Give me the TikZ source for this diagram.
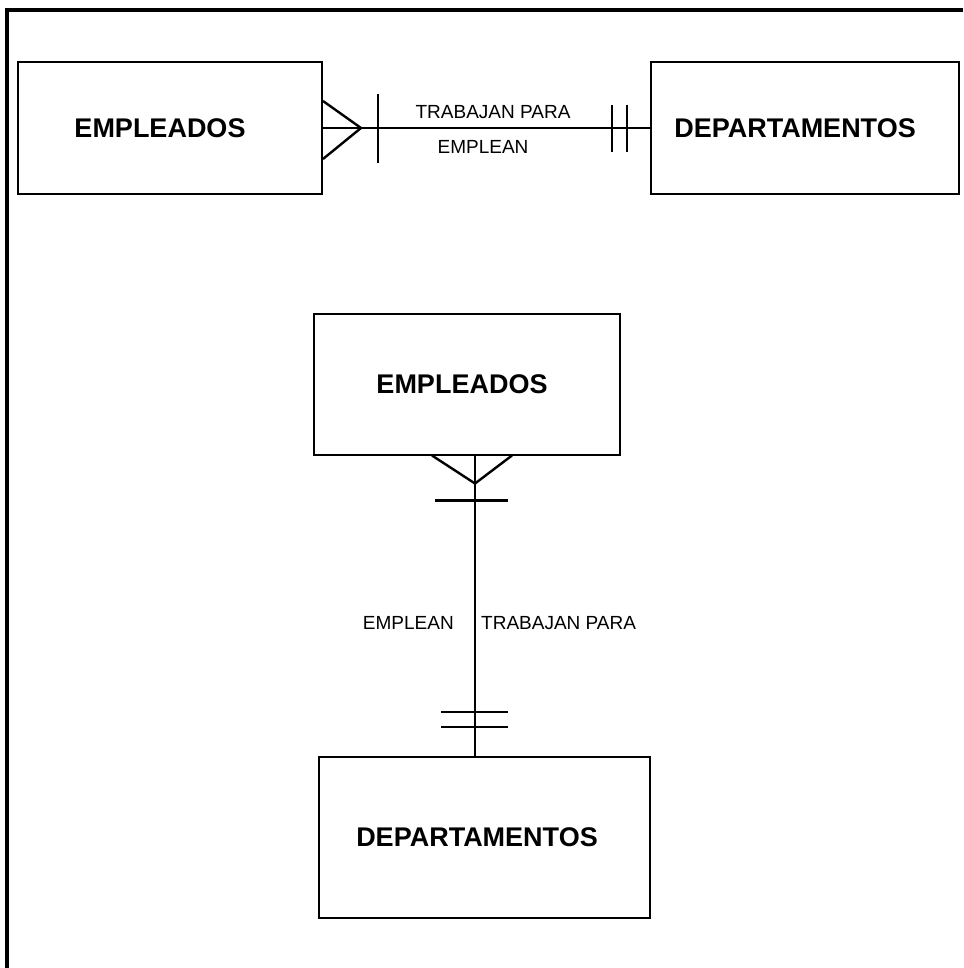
\documentclass[tikz,border=0pt]{standalone}
\usepackage{fontspec}
\setmainfont{Liberation Sans}
\usetikzlibrary{calc}
\begin{document}
\begin{tikzpicture}[x=1pt,y=-1pt,
  entity/.style={draw,line width=2pt,rectangle,inner sep=0pt,font=\fontsize{27}{30}\selectfont\bfseries},
  rel/.style={font=\fontsize{19}{22}\selectfont,inner sep=1pt},
  conn/.style={line width=2pt},
  cardmark/.style={line width=2.4pt}]
\useasboundingbox (0,0) rectangle (963,968);
% frame
\draw[line width=3.5pt] (7,968) -- (7,10) -- (963,10);
% entities
\node[entity,minimum width=304pt,minimum height=132pt] (e1) at (170,128) {EMPLEADOS\hspace*{20pt}};
\node[entity,minimum width=308pt,minimum height=132pt] (d1) at (805,128) {DEPARTAMENTOS\hspace*{20pt}};
\node[entity,minimum width=306pt,minimum height=141pt] (e2) at (467,384) {EMPLEADOS\hspace*{10pt}};
\node[entity,minimum width=331pt,minimum height=161pt] (d2) at (484.5,837.5) {DEPARTAMENTOS\hspace*{15pt}};
% horizontal relationship
\draw[conn] (e1.east) -- (d1.west);
\draw[cardmark] ($(e1.east)+(0,-27)$) -- ($(e1.east)+(38,0)$) -- ($(e1.east)+(0,31)$);
\draw[cardmark] ($(e1.east)+(55,-34)$) -- ($(e1.east)+(55,35)$);
\draw[cardmark] ($(d1.west)+(-38,-23)$) -- ($(d1.west)+(-38,24)$);
\draw[cardmark] ($(d1.west)+(-23,-23)$) -- ($(d1.west)+(-23,24)$);
\node[rel] (t1) at (493,112) {TRABAJAN PARA};
\node[rel] (m1) at (483,147) {EMPLEAN};
% vertical relationship
\coordinate (c) at ($(e2.south)+(8,0)$);
\draw[conn] (c) -- (c |- d2.north);
\draw[cardmark] ($(c)+(-43,0)$) -- ($(c)+(0,28)$) -- ($(c)+(37,0)$);
\draw[cardmark] ($(c)+(-40,45)$) -- ($(c)+(33,45)$);
\draw[cardmark] ($(c |- d2.north)+(-34,-44)$) -- ($(c |- d2.north)+(33,-44)$);
\draw[cardmark] ($(c |- d2.north)+(-34,-29)$) -- ($(c |- d2.north)+(33,-29)$);
\node[rel,anchor=east] (m2) at (455,623) {EMPLEAN};
\node[rel,anchor=west] (t2) at (480,623) {TRABAJAN PARA};
\end{tikzpicture}
\end{document}
